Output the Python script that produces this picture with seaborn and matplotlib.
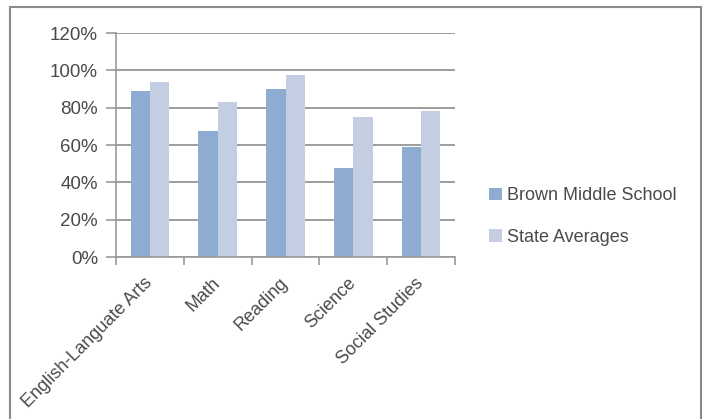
import matplotlib
matplotlib.use("Agg")
import matplotlib.pyplot as plt
import seaborn as sns
import pandas as pd
from matplotlib.patches import Rectangle
from matplotlib.ticker import PercentFormatter, FixedLocator

subjects = ["English-Languate Arts", "Math", "Reading", "Science", "Social Studies"]
brown_middle = [0.89, 0.675, 0.90, 0.475, 0.59]
state_avg = [0.94, 0.83, 0.975, 0.75, 0.78]
series_names = ["Brown Middle School", "State Averages"]
yticks = [0, 0.2, 0.4, 0.6, 0.8, 1.0, 1.2]

df = pd.DataFrame({
    "Subject": subjects * 2,
    "Value": brown_middle + state_avg,
    "Series": [series_names[0]] * len(subjects) + [series_names[1]] * len(subjects),
})

sns.set_theme(style="white")
plt.rcParams["font.family"] = ["Liberation Sans", "DejaVu Sans"]
text_color = "#4a4a4a"
grid_color = "#8c8c8c"

fig = plt.figure(figsize=(7.07, 4.19), dpi=100)
ax = fig.add_axes([116 / 707, 1 - 257 / 419, (455 - 116) / 707, (257 - 33) / 419])

sns.barplot(data=df, x="Subject", y="Value", hue="Series", ax=ax,
            palette=["#8EACD1", "#C4CEE3"], width=0.57, saturation=1,
            edgecolor="none", linewidth=0)

ax.set_ylim(0, 1.2)
ax.set_xlim(-0.5, len(subjects) - 0.5)
ax.set_yticks(yticks)
ax.yaxis.set_major_formatter(PercentFormatter(1.0, decimals=0))
ax.yaxis.grid(True, color=grid_color, linewidth=1.2)
ax.set_axisbelow(True)
ax.set_xlabel("")
ax.set_ylabel("")

for s in ["top", "right"]:
    ax.spines[s].set_visible(False)
for s in ["left", "bottom"]:
    ax.spines[s].set_color("#999999")
    ax.spines[s].set_linewidth(1.2)

ax.tick_params(axis="y", which="major", length=7, width=1.2, color="#999999",
               labelsize=13.5, labelcolor=text_color, pad=6, left=True)
ax.tick_params(axis="x", which="major", length=0, labelsize=13,
               labelcolor=text_color, pad=17, bottom=True)
ax.xaxis.set_minor_locator(FixedLocator([i - 0.5 for i in range(len(subjects) + 1)]))
ax.tick_params(axis="x", which="minor", length=6, width=1.2, color="#999999", bottom=True)
plt.setp(ax.get_xticklabels(), rotation=45, ha="right", va="center",
         rotation_mode="anchor")

leg = ax.legend(loc="center left", bbox_to_anchor=(1.08, 0.18), frameon=False,
                fontsize=13, handlelength=0.7, handleheight=0.7,
                handletextpad=0.3, labelspacing=1.35, borderaxespad=0)
for t in leg.get_texts():
    t.set_color(text_color)

fig.patches.append(Rectangle((10 / 707, -0.02), (701 - 10) / 707, 1 - 7 / 419 + 0.02,
                             transform=fig.transFigure, fill=False,
                             edgecolor="#8a8a8a", linewidth=1.5))

fig.savefig("out.png", dpi=100)
